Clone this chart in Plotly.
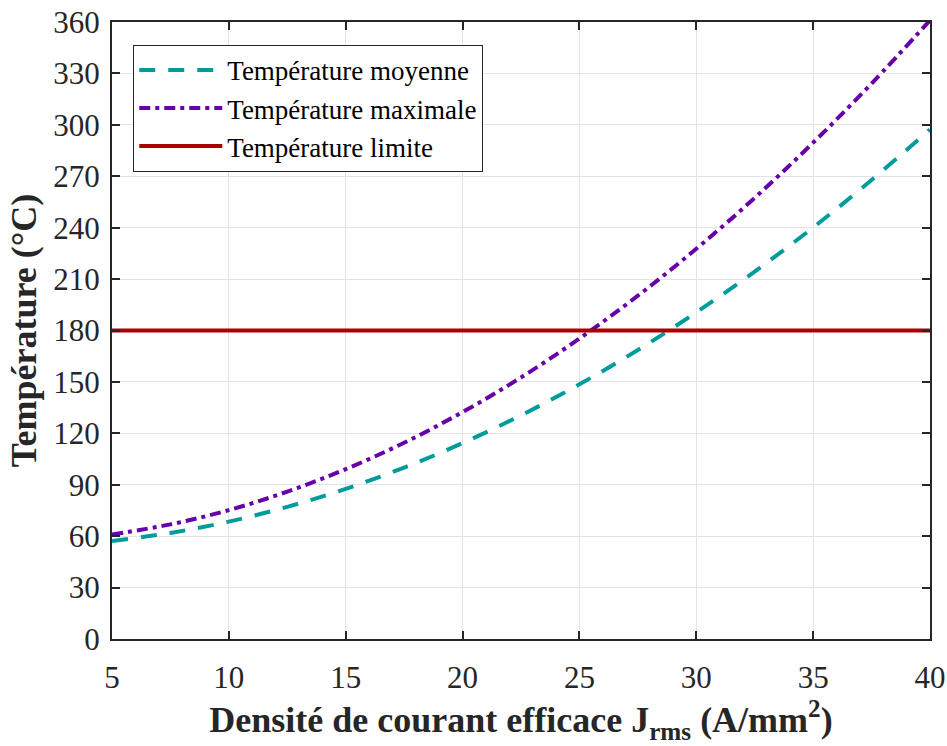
import plotly.graph_objects as go

J = [5, 7.5, 10, 12.5, 15, 17.5, 20, 22.5, 25, 27.5, 30, 32.5, 35, 37.5, 40]
T_moy = [57.1, 61.9, 68.5, 77.1, 87.6, 100.0, 114.3, 130.5, 148.6, 168.6, 190.6, 214.4, 240.1, 267.8, 297.3]
T_max = [61.0, 66.9, 75.2, 86.0, 99.1, 114.5, 132.4, 152.6, 175.3, 200.3, 227.7, 257.4, 289.6, 324.1, 361.0]
T_lim = [180, 180]
J_lim = [5, 40]

x_ticks = [5, 10, 15, 20, 25, 30, 35, 40]
y_ticks = list(range(0, 361, 30))

font = "Liberation Serif, Times New Roman, serif"

fig = go.Figure()
fig.add_trace(go.Scatter(x=J, y=T_moy, mode="lines", name="Température moyenne",
                         line=dict(color="#009B9B", width=4, dash="16px,13px", shape="spline")))
fig.add_trace(go.Scatter(x=J, y=T_max, mode="lines", name="Température maximale",
                         line=dict(color="#6600AA", width=4, dash="11px,5px,4px,5px", shape="spline")))
fig.add_trace(go.Scatter(x=J_lim, y=T_lim, mode="lines", name="Température limite",
                         line=dict(color="#AA0000", width=4)))

axis_common = dict(showline=True, linecolor="#262626", linewidth=2, mirror="ticks",
                   ticks="inside", ticklen=8, tickwidth=2, tickcolor="#262626",
                   showgrid=True, gridcolor="#E3E3E3", gridwidth=1, zeroline=False,
                   automargin=False,
                   tickfont=dict(family=font, size=31, color="#262626"))

fig.update_xaxes(range=[5, 40], tickvals=x_ticks, ticktext=[str(v) for v in x_ticks],
                 ticklabelstandoff=10,
                 title=dict(text="<b>Densité de courant efficace J<sub>rms</sub> (A/mm<sup>2</sup>)</b>",
                            font=dict(family=font, size=36, color="#262626"), standoff=5),
                 **axis_common)
fig.update_yaxes(range=[0, 360], tickvals=y_ticks, ticktext=[str(v) for v in y_ticks],
                 ticklabelstandoff=4,
                 title=dict(text="<b>Température (°C)</b>",
                            font=dict(family=font, size=36, color="#262626"), standoff=6),
                 **axis_common)

fig.update_layout(
    width=947, height=746,
    margin=dict(l=112, r=17, t=22, b=107),
    paper_bgcolor="white", plot_bgcolor="white",
    font=dict(family=font, color="#262626"),
    legend=dict(x=0.026, y=0.963, xanchor="left", yanchor="top",
                bgcolor="white", bordercolor="#262626", borderwidth=1,
                font=dict(family=font, size=27, color="black"),
                itemwidth=83, tracegroupgap=0),
    showlegend=True,
)

fig.write_html("out.html", config={"responsive": False, "displayModeBar": False},
               post_script="document.body.style.margin='0';document.body.style.overflow='hidden';")
